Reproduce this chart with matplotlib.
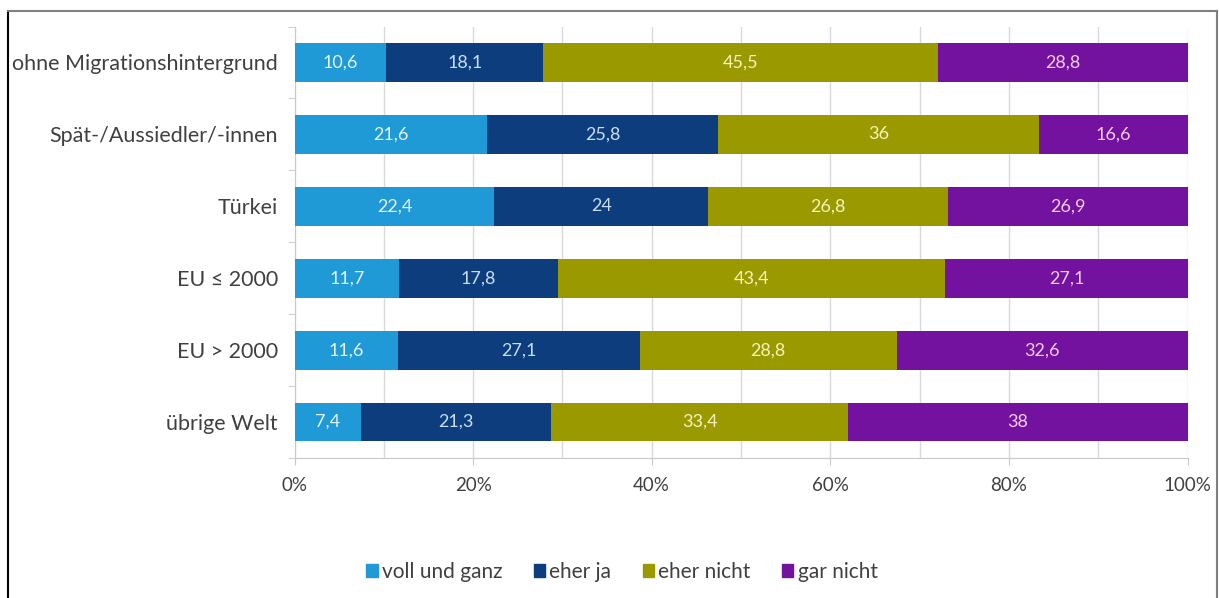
import matplotlib
matplotlib.use("Agg")
import matplotlib.pyplot as plt
import numpy as np
from matplotlib.lines import Line2D
from matplotlib.ticker import MultipleLocator, PercentFormatter

plt.rcParams['font.family'] = ['Lato', 'DejaVu Sans']

categories = ["ohne Migrationshintergrund", "Spät-/Aussiedler/-innen", "Türkei",
              "EU ≤ 2000", "EU > 2000", "übrige Welt"]
series_names = ["voll und ganz", "eher ja", "eher nicht", "gar nicht"]
voll_und_ganz = [10.6, 21.6, 22.4, 11.7, 11.6, 7.4]
eher_ja = [18.1, 25.8, 24, 17.8, 27.1, 21.3]
eher_nicht = [45.5, 36, 26.8, 43.4, 28.8, 33.4]
gar_nicht = [28.8, 16.6, 26.9, 27.1, 32.6, 38]

colors = ["#1f9ad6", "#0d3d7d", "#9a9a00", "#73129e"]
label_colors = ["#e6f4ff", "#c9defa", "#f6f2b8", "#f3cdf3"]

values = np.array([voll_und_ganz, eher_ja, eher_nicht, gar_nicht], dtype=float)
totals = values.sum(axis=0)
shares = values / totals * 100.0

fig = plt.figure(figsize=(12.19, 5.98), dpi=100)
ax = fig.add_axes([294.5 / 1219, 1 - 458 / 598, 893 / 1219, 431.5 / 598])

y = np.arange(len(categories))
left = np.zeros(len(categories))
for i, name in enumerate(series_names):
    bars = ax.barh(y, shares[i], left=left, height=0.54, color=colors[i],
                   label=name, zorder=3)
    for j, b in enumerate(bars):
        txt = f"{values[i][j]:g}".replace(".", ",")
        ax.text(left[j] + shares[i][j] / 2, y[j], txt, ha="center", va="center",
                color=label_colors[i], fontsize=13, zorder=4)
    left = left + shares[i]

ax.set_xlim(0, 100)
ax.set_ylim(len(categories) - 0.5, -0.5)
ax.set_yticks(y)
ax.set_yticklabels(categories)
ax.set_yticks(np.arange(-0.5, len(categories) + 0.5, 1), minor=True)
ax.tick_params(axis="y", which="major", length=0, pad=12, labelsize=15.5,
               labelcolor="#404040")
ax.tick_params(axis="y", which="minor", length=5, color="#c8c8c8")

ax.xaxis.set_major_locator(MultipleLocator(20))
ax.xaxis.set_minor_locator(MultipleLocator(10))
ax.xaxis.set_major_formatter(PercentFormatter(decimals=0))
ax.tick_params(axis="x", which="major", length=5, color="#c8c8c8", pad=9,
               labelsize=13.5, labelcolor="#404040")
ax.tick_params(axis="x", which="minor", length=0)
ax.grid(axis="x", which="both", color="#d9d9d9", linewidth=1, zorder=0)

for side in ["top", "right"]:
    ax.spines[side].set_visible(False)
for side in ["left", "bottom"]:
    ax.spines[side].set_color("#c8c8c8")

handles = [plt.Rectangle((0, 0), 1, 1, color=c) for c in colors]
fig.legend(handles, series_names, loc="center", bbox_to_anchor=(622 / 1219, 1 - 572 / 598),
           ncol=4, frameon=False, fontsize=15, handlelength=0.55, handleheight=0.55,
           handletextpad=0.2, columnspacing=1.5, labelcolor="#404040")

# frame around the chart
fig.add_artist(Line2D([8 / 1219, 8 / 1219], [0, 1 - 11 / 598], color="black", lw=1.5))
fig.add_artist(Line2D([8 / 1219, 1217 / 1219], [1 - 11 / 598, 1 - 11 / 598],
                      color="#7f7f7f", lw=1.5))
fig.add_artist(Line2D([1217 / 1219, 1217 / 1219], [0, 1 - 11 / 598],
                      color="#7f7f7f", lw=1.5))

fig.savefig("out.png", dpi=100)
